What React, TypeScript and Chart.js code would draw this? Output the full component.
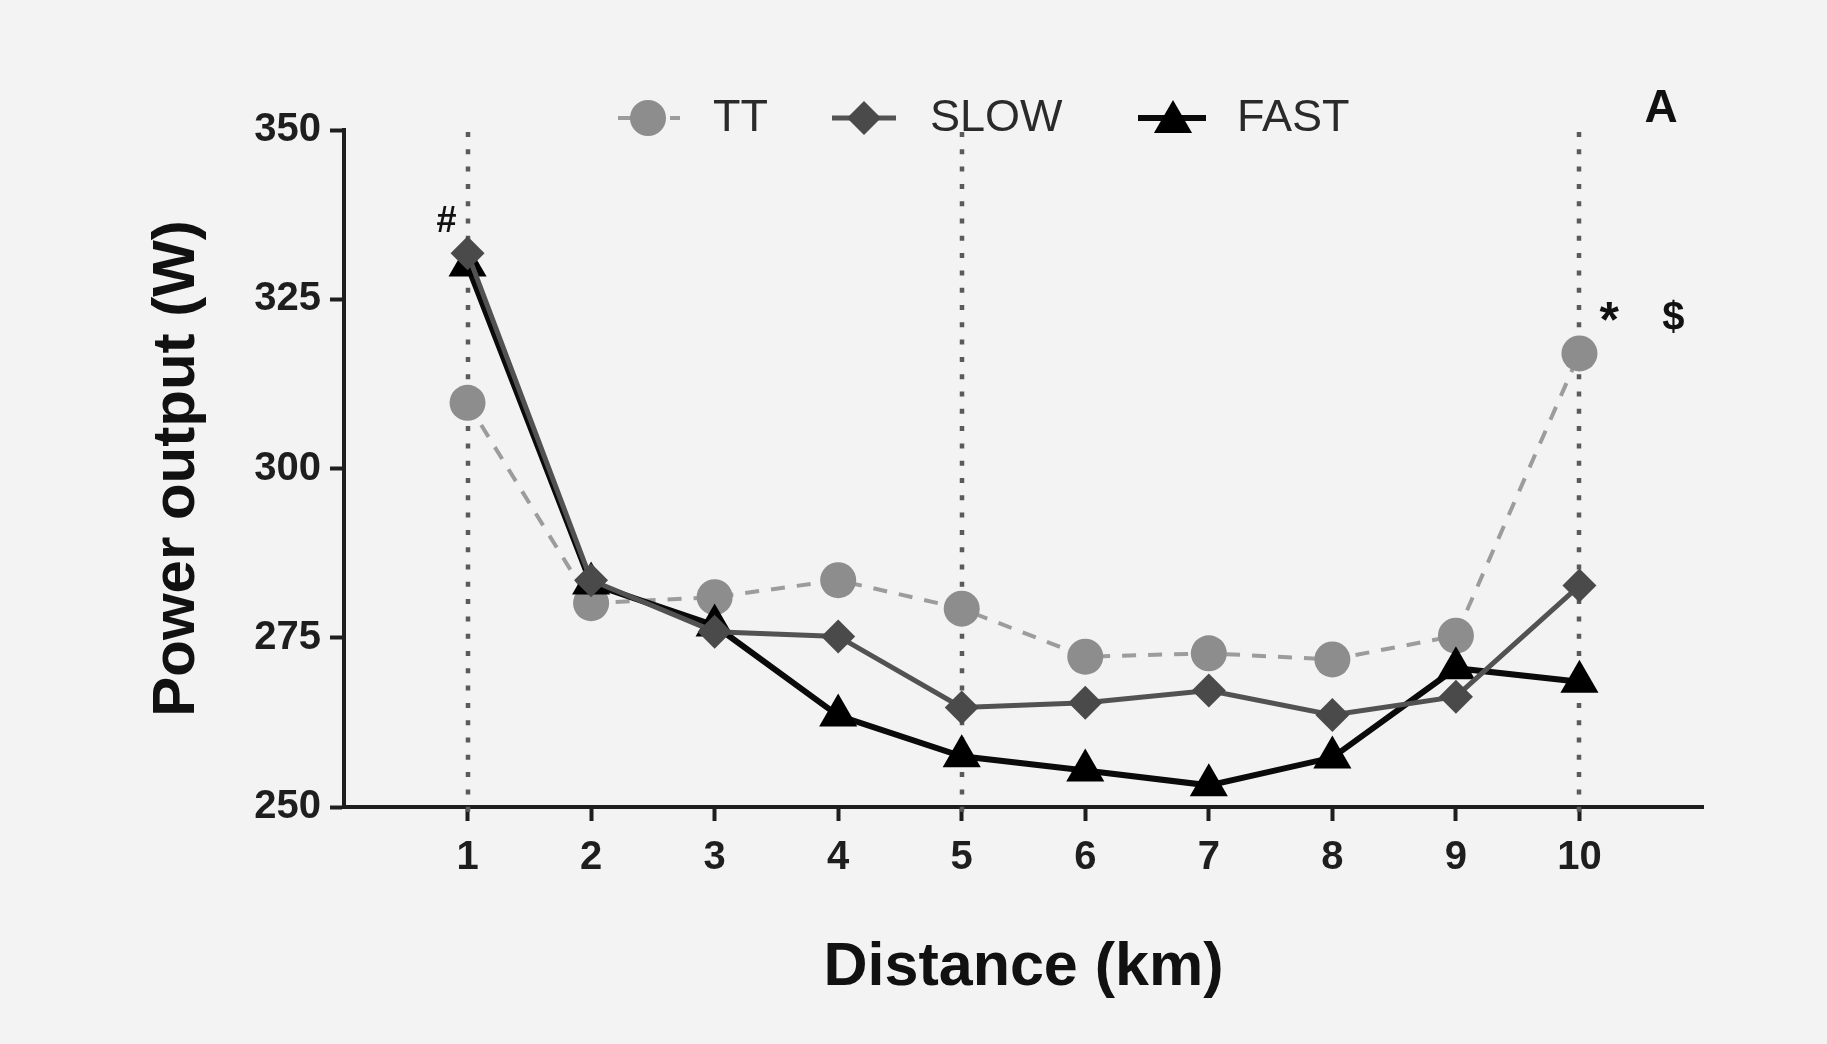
import React, { useEffect, useRef } from 'react';
import { Chart, PointElement, registerables } from 'chart.js';

Chart.register(...registerables);

// Power output per kilometre for the three pacing conditions
const distanceKm = [1, 2, 3, 4, 5, 6, 7, 8, 9, 10];
const ttPower = [309.7, 280.1, 281.0, 283.5, 279.3, 272.2, 272.7, 271.8, 275.3, 317.0];
const slowPower = [331.8, 283.5, 275.9, 275.2, 264.7, 265.4, 267.2, 263.6, 266.3, 282.7];
const fastPower = [330.0, 283.0, 276.8, 263.5, 257.5, 255.4, 253.2, 257.3, 270.5, 268.5];
const seriesNames = ['TT', 'SLOW', 'FAST'];
const yTickValues = [250, 275, 300, 325, 350];
const markedKm = [1, 5, 10];
// Significance symbols, anchored in data units (km, W)
const markNotes = [
  { text: '#', km: 0.83, watts: 336.4 },
  { text: '*', km: 10.24, watts: 321.5 },
  { text: '$', km: 10.76, watts: 322.1 },
];
const panelLabel = 'A';

const FONT = "'Liberation Sans', Arial, Helvetica, sans-serif";
const INK = '#1e1e1e';

const toPoints = (ys: number[]) => distanceKm.map((x, i) => ({ x, y: ys[i] }));

// Vertical dotted guides at the marked kilometres
const guideLines = {
  id: 'guideLines',
  beforeDatasetsDraw(chart: any) {
    const { ctx, chartArea, scales } = chart;
    ctx.save();
    ctx.strokeStyle = '#5a5a5a';
    ctx.lineWidth = 4.5;
    ctx.setLineDash([5, 12.3]);
    for (const km of markedKm) {
      const x = Math.round(scales.x.getPixelForValue(km));
      ctx.beginPath();
      ctx.moveTo(x, chartArea.top + 2);
      ctx.lineTo(x, chartArea.bottom + 16);
      ctx.stroke();
    }
    ctx.restore();
  },
};

// Significance marks and the panel letter
const noteMarks = {
  id: 'noteMarks',
  afterDatasetsDraw(chart: any) {
    const { ctx, chartArea, scales } = chart;
    ctx.save();
    ctx.fillStyle = '#111';
    ctx.textAlign = 'center';
    ctx.textBaseline = 'middle';
    const sizes: Record<string, number> = { '#': 36, '*': 50, '$': 40 };
    for (const n of markNotes) {
      ctx.font = `bold ${sizes[n.text] || 38}px ${FONT}`;
      ctx.fillText(n.text, scales.x.getPixelForValue(n.km), scales.y.getPixelForValue(n.watts));
    }
    ctx.font = `bold 46px ${FONT}`;
    ctx.fillText(panelLabel, chartArea.right - 42, chartArea.top - 21);
    ctx.restore();
  },
};

// Legend row with line + marker samples taken from each dataset
const lineLegend = {
  id: 'lineLegend',
  afterDraw(chart: any) {
    const { ctx } = chart;
    const rowY = 118;
    const items = [
      { from: 618, to: 680, marker: 648, text: 713 },
      { from: 832, to: 896, marker: 864, text: 930 },
      { from: 1138, to: 1206, marker: 1173, text: 1237 },
    ];
    const area = { left: 0, top: 0, right: chart.width, bottom: chart.height };
    ctx.save();
    chart.data.datasets.forEach((ds: any, i: number) => {
      const it = items[i];
      ctx.save();
      ctx.strokeStyle = ds.borderColor;
      ctx.lineWidth = ds.borderWidth;
      ctx.setLineDash(ds.borderDash || []);
      ctx.beginPath();
      ctx.moveTo(it.from, rowY);
      ctx.lineTo(it.to, rowY);
      ctx.stroke();
      ctx.restore();
      const pt = new (PointElement as any)({
        x: it.marker,
        y: rowY + (ds.pointStyle === 'triangle' ? 4 : 0),
        options: {
          pointStyle: ds.pointStyle,
          radius: ds.pointRadius,
          rotation: 0,
          borderWidth: 0,
          borderColor: ds.pointBackgroundColor,
          backgroundColor: ds.pointBackgroundColor,
        },
      });
      pt.draw(ctx, area);
      ctx.fillStyle = '#2a2a2a';
      ctx.font = `45px ${FONT}`;
      ctx.textAlign = 'left';
      ctx.textBaseline = 'middle';
      ctx.fillText(ds.label, it.text, rowY + 1);
    });
    ctx.restore();
  },
};

const tickFont = { family: FONT, size: 40, weight: 'bold' as const };

export default function App() {
  const canvasRef = useRef<HTMLCanvasElement | null>(null);

  useEffect(() => {
    const canvas = canvasRef.current;
    if (!canvas) return;
    const chart = new Chart(canvas, {
      type: 'line',
      data: {
        datasets: [
          {
            label: seriesNames[0],
            data: toPoints(ttPower),
            borderColor: '#9c9c9c',
            borderWidth: 4,
            borderDash: [14, 12],
            pointStyle: 'circle',
            pointRadius: 18,
            pointBackgroundColor: '#8d8d8d',
            pointBorderWidth: 0,
            order: 2,
          },
          {
            label: seriesNames[1],
            data: toPoints(slowPower),
            borderColor: '#525252',
            borderWidth: 5,
            pointStyle: 'rectRot',
            pointRadius: 17,
            pointBackgroundColor: '#4a4a4a',
            pointBorderWidth: 0,
            order: 0,
          },
          {
            label: seriesNames[2],
            data: toPoints(fastPower),
            borderColor: '#0a0a0a',
            borderWidth: 6,
            pointStyle: 'triangle',
            pointRadius: 22,
            pointBackgroundColor: '#000000',
            pointBorderWidth: 0,
            order: 1,
          },
        ],
      },
      options: {
        responsive: false,
        animation: false,
        devicePixelRatio: 1,
        layout: { padding: { top: 130, right: 124, left: 0, bottom: 0 } },
        plugins: {
          legend: { display: false },
          tooltip: { enabled: false },
        },
        scales: {
          x: {
            type: 'linear',
            min: 0,
            max: 11,
            afterBuildTicks: (scale: any) => {
              scale.ticks = distanceKm.map((v) => ({ value: v }));
            },
            afterFit: (scale: any) => {
              scale.height = 237;
            },
            ticks: { font: tickFont, color: INK, padding: 13 },
            grid: {
              drawOnChartArea: false,
              drawTicks: true,
              tickLength: 14,
              tickWidth: 4,
              tickColor: INK,
            },
            border: { display: true, color: INK, width: 4 },
            title: {
              display: true,
              text: 'Distance (km)',
              color: '#111',
              font: { family: FONT, size: 61, weight: 'bold' },
              padding: { top: 0, bottom: 39 },
            },
          },
          y: {
            type: 'linear',
            min: 250,
            max: 350,
            afterBuildTicks: (scale: any) => {
              scale.ticks = yTickValues.map((v) => ({ value: v }));
            },
            afterFit: (scale: any) => {
              scale.width = 344;
            },
            ticks: { font: tickFont, color: INK, padding: 9 },
            grid: {
              drawOnChartArea: false,
              drawTicks: true,
              tickLength: 14,
              tickWidth: 4,
              tickColor: INK,
            },
            border: { display: true, color: INK, width: 4 },
            title: {
              display: true,
              text: 'Power output (W)',
              color: '#111',
              font: { family: FONT, size: 60, weight: 'bold' },
              padding: { top: 141, bottom: 0 },
            },
          },
        },
      },
      plugins: [guideLines, noteMarks, lineLegend],
    } as any);
    return () => chart.destroy();
  }, []);

  return (
    <div style={{ position: 'fixed', inset: 0, background: '#f3f3f3' }}>
      <canvas ref={canvasRef} width={1827} height={1044} style={{ display: 'block' }} />
    </div>
  );
}
